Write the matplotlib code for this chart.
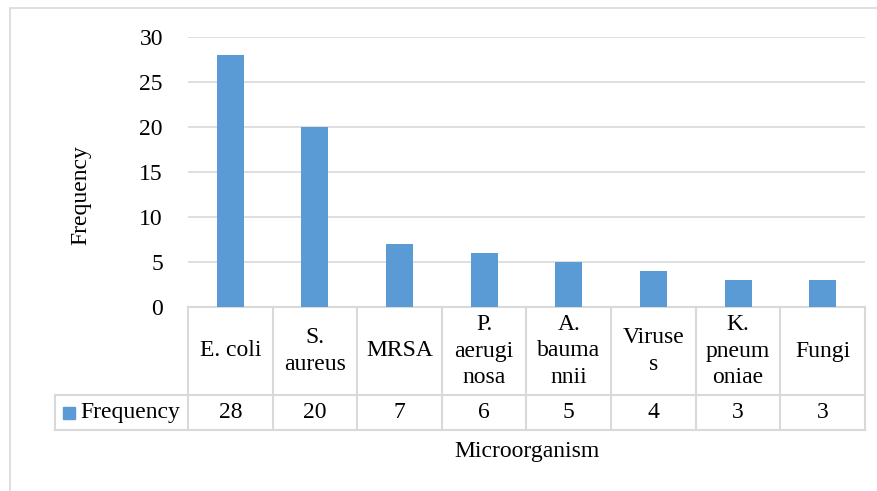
import matplotlib.pyplot as plt
import matplotlib.transforms as mtransforms
from matplotlib.patches import Rectangle
from matplotlib.lines import Line2D

plt.rcParams['font.family'] = ['Liberation Serif', 'DejaVu Serif']

# data
categories = ['E. coli', 'S.\naureus', 'MRSA', 'P.\naerugi\nnosa', 'A.\nbauma\nnnii',
              'Viruse\ns', 'K.\npneum\noniae', 'Fungi']
frequency = [28, 20, 7, 6, 5, 4, 3, 3]
series_name = 'Frequency'

bar_color = '#5B9BD5'
line_color = '#D9D9D9'
fs = 17

W, H = 878, 491
fig = plt.figure(figsize=(W / 100, H / 100), dpi=100)

# outer chart frame
fig.patches.append(Rectangle((10 / W, -0.1), 1.2, 1 - 8 / H + 0.1, transform=fig.transFigure,
                             fill=False, edgecolor=line_color, linewidth=1.2))

x0, x1, y0, y1 = 188, 865, 307, 37
ax = fig.add_axes([x0 / W, 1 - y0 / H, (x1 - x0) / W, (y0 - y1) / H])
n = len(categories)
ax.bar(range(n), frequency, width=0.32, color=bar_color, zorder=3)
ax.set_xlim(-0.5, n - 0.5)
ax.set_ylim(0, 30)
ax.set_yticks(range(0, 31, 5))
ax.tick_params(axis='y', length=0, pad=18, labelsize=fs)
ax.set_xticks([])
ax.grid(axis='y', color=line_color, linewidth=1.2, zorder=0)
for s in ax.spines.values():
    s.set_visible(False)
ax.set_ylabel('Frequency', fontsize=fs)
ax.yaxis.set_label_coords((91 - x0) / (x1 - x0), (y0 - 195) / (y0 - y1))

# data table below the plot
trans = mtransforms.blended_transform_factory(ax.transData, ax.transAxes)
px = (y0 - y1)
r1 = -(395 - y0) / px
r2 = -(430 - y0) / px
left_x = -0.5 - (x0 - 55) / ((x1 - x0) / n)

def hline(xa, xb, y):
    ax.add_line(Line2D([xa, xb], [y, y], transform=trans, color=line_color,
                       linewidth=1.5, clip_on=False))

def vline(x, ya, yb):
    ax.add_line(Line2D([x, x], [ya, yb], transform=trans, color=line_color,
                       linewidth=1.5, clip_on=False))

hline(-0.5, n - 0.5, 0)
hline(left_x, n - 0.5, r1)
hline(left_x, n - 0.5, r2)
for i in range(n + 1):
    vline(i - 0.5, 0, r2)
vline(left_x, r1, r2)

for i, (c, v) in enumerate(zip(categories, frequency)):
    ax.text(i, r1 / 2, c, transform=trans, ha='center', va='center',
            fontsize=fs, linespacing=1.35)
    ax.text(i, (r1 + r2) / 2, str(v), transform=trans, ha='center', va='center',
            fontsize=fs)

# legend key inside the table
unit = (x1 - x0) / n
ax.add_patch(Rectangle((left_x + 8 / unit, (r1 + r2) / 2 - 6 / px), 12 / unit, 12 / px,
                       transform=trans, color=bar_color, clip_on=False))
ax.text(left_x + 25 / unit, (r1 + r2) / 2, series_name, transform=trans,
        ha='left', va='center', fontsize=fs)

ax.text(0.5, -(451 - y0) / px, 'Microorganism', transform=ax.transAxes,
        ha='center', va='center', fontsize=fs)

fig.savefig('out.png', dpi=100)
